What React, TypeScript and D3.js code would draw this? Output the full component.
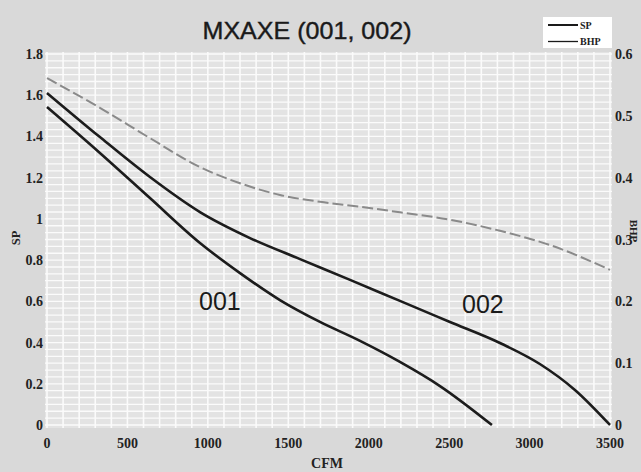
import React from "react";
import * as d3 from "d3";

const W = 641;
const H = 472;

const xTicks = [0, 500, 1000, 1500, 2000, 2500, 3000, 3500];
const yTicksLeft = [0, 0.2, 0.4, 0.6, 0.8, 1, 1.2, 1.4, 1.6, 1.8];
const yTicksRight = [0, 0.1, 0.2, 0.3, 0.4, 0.5, 0.6];

const curve001CFM = [0, 329, 640, 951, 1200, 1448, 1697, 1946, 2194, 2443, 2766];
const curve001SP = [1.543, 1.32, 1.101, 0.883, 0.737, 0.606, 0.5, 0.408, 0.306, 0.189, 0];

const curve002CFM = [0, 329, 640, 951, 1262, 1573, 1884, 2194, 2505, 2816, 3064, 3282, 3500];
const curve002SP = [1.611, 1.397, 1.203, 1.033, 0.907, 0.805, 0.704, 0.602, 0.5, 0.398, 0.296, 0.17, 0];

const bhpCFM = [0, 329, 640, 951, 1200, 1448, 1697, 1946, 2194, 2505, 2816, 3127, 3500];
const bhpValues = [0.561, 0.513, 0.464, 0.417, 0.391, 0.372, 0.361, 0.353, 0.344, 0.332, 0.314, 0.291, 0.251];

const labels = [
  { text: "001", cfm: 1075, sp: 0.558 },
  { text: "002", cfm: 2710, sp: 0.543 },
];

export default function App() {
  const x = d3.scaleLinear().domain([0, 3500]).range([47, 610]);
  const y = d3.scaleLinear().domain([0, 1.8]).range([425, 54]);
  const yR = d3.scaleLinear().domain([0, 0.6]).range([425, 54]);

  const plotL = x(0) - 2;
  const plotR = x(3500) + 2;
  const plotT = y(1.8) - 2;
  const plotB = y(0) + 3;

  const line = d3
    .line<[number, number]>()
    .x((d) => x(d[0]))
    .y((d) => y(d[1]))
    .curve(d3.curveMonotoneX);
  const lineR = d3
    .line<[number, number]>()
    .x((d) => x(d[0]))
    .y((d) => yR(d[1]))
    .curve(d3.curveMonotoneX);

  const d001 = line(curve001CFM.map((c, i) => [c, curve001SP[i]]));
  const d002 = line(curve002CFM.map((c, i) => [c, curve002SP[i]]));
  const dBhp = lineR(bhpCFM.map((c, i) => [c, bhpValues[i]]));

  const vGrid = d3.range(0, 3501, 100);
  const hGrid = d3.range(0, 55).map((i) => i / 30);

  const serif = "'Liberation Serif', 'Times New Roman', serif";
  const sans = "'Liberation Sans', Arial, sans-serif";

  return (
    <svg width={W} height={H} style={{ position: "absolute", left: 0, top: 0 }}>
      <rect x={0} y={0} width={W} height={H} fill="#d9d9d9" />
      <rect x={plotL} y={plotT} width={plotR - plotL} height={plotB - plotT} fill="#e3e3e3" />
      {vGrid.map((v) => (
        <line key={"v" + v} x1={x(v)} x2={x(v)} y1={plotT} y2={plotB} stroke="#fbfbfb" strokeWidth={1.6} />
      ))}
      {hGrid.map((v, i) => (
        <line key={"h" + i} x1={plotL} x2={plotR} y1={y(v)} y2={y(v)} stroke="#fbfbfb" strokeWidth={1.3} />
      ))}

      <path d={dBhp || ""} fill="none" stroke="#8a8a8a" strokeWidth={2} strokeDasharray="11,4" />
      <path d={d001 || ""} fill="none" stroke="#1c1c1c" strokeWidth={2.6} />
      <path d={d002 || ""} fill="none" stroke="#1c1c1c" strokeWidth={2.6} />

      {labels.map((l) => (
        <text key={l.text} x={x(l.cfm)} y={y(l.sp)} fontFamily={sans} fontSize={25} fill="#1a1a1a" textAnchor="middle">
          {l.text}
        </text>
      ))}

      <text x={307} y={39} fontFamily={sans} fontSize={24} fill="#1a1a1a" textAnchor="middle" textLength={209} lengthAdjust="spacingAndGlyphs" stroke="#1a1a1a" strokeWidth={0.4}>
        MXAXE (001, 002)
      </text>

      {yTicksLeft.map((t) => (
        <text key={"yl" + t} x={43} y={y(t) + 5} fontFamily={serif} fontWeight="bold" fontSize={14} fill="#222" textAnchor="end">
          {String(t)}
        </text>
      ))}
      {yTicksRight.map((t) => (
        <text key={"yr" + t} x={615} y={yR(t) + 5} fontFamily={serif} fontWeight="bold" fontSize={14} fill="#222" textAnchor="start">
          {String(t)}
        </text>
      ))}
      {xTicks.map((t) => (
        <text key={"x" + t} x={x(t)} y={448} fontFamily={serif} fontWeight="bold" fontSize={14} fill="#222" textAnchor="middle">
          {String(t)}
        </text>
      ))}

      <text x={327} y={468} fontFamily={serif} fontWeight="bold" fontSize={14} fill="#222" textAnchor="middle">
        CFM
      </text>
      <text transform={`translate(20,238) rotate(-90)`} fontFamily={serif} fontWeight="bold" fontSize={12.5} fill="#222" textAnchor="middle">
        SP
      </text>
      <text transform={`translate(630,231) rotate(90)`} fontFamily={serif} fontWeight="bold" fontSize={11} fill="#222" textAnchor="middle">
        BHP
      </text>

      <rect x={543} y={17} width={69} height={31} fill="#ffffff" />
      <line x1={548} x2={578} y1={25} y2={25} stroke="#1a1a1a" strokeWidth={2} />
      <text x={580} y={28.5} fontFamily={serif} fontWeight="bold" fontSize={10} fill="#222">
        SP
      </text>
      <line x1={548} x2={578} y1={41.5} y2={41.5} stroke="#1a1a1a" strokeWidth={1.3} />
      <text x={580} y={45} fontFamily={serif} fontWeight="bold" fontSize={10} fill="#222">
        BHP
      </text>
    </svg>
  );
}
